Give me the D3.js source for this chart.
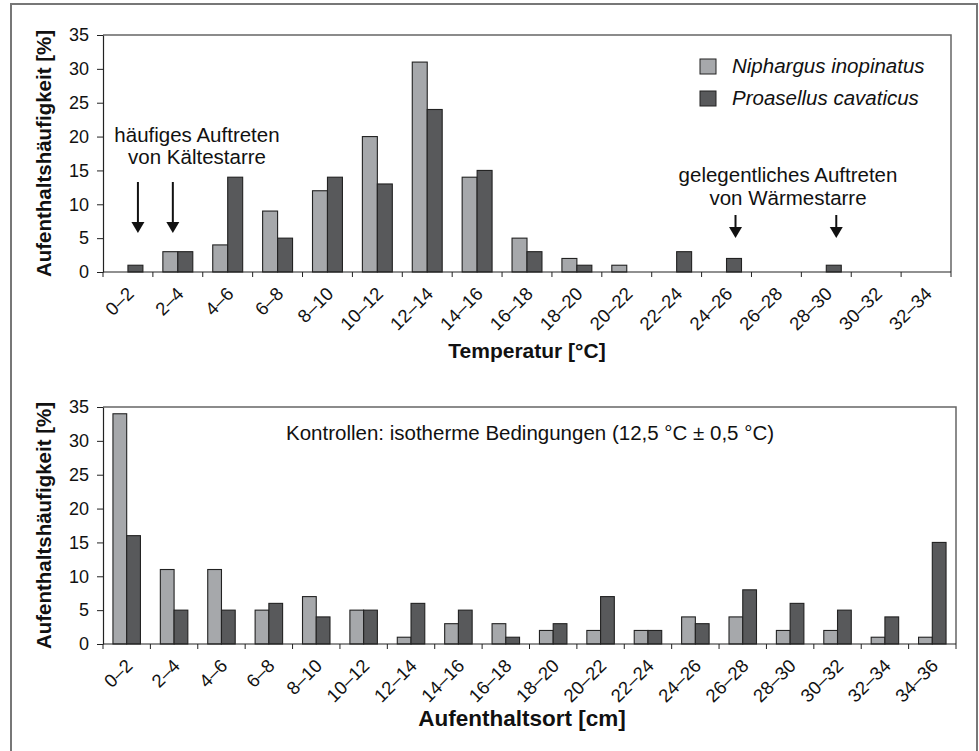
<!DOCTYPE html>
<html>
<head>
<meta charset="utf-8">
<script src="https://cdn.jsdelivr.net/npm/d3@7/dist/d3.min.js"></script>
<style>
  html, body { margin: 0; padding: 0; background: #fff; }
  svg { display: block; }
  text { font-family: "Liberation Sans", Arial, sans-serif; fill: #111; }
</style>
</head>
<body>
<svg id="chart" width="979" height="751"></svg>
<script>
// ---------- data ----------
const seriesNames = ["Niphargus inopinatus", "Proasellus cavaticus"];

const tempCategories = ["0–2","2–4","4–6","6–8","8–10","10–12","12–14","14–16","16–18","18–20","20–22","22–24","24–26","26–28","28–30","30–32","32–34"];
const tempNiphargus  = [0, 3, 4, 9, 12, 20, 31, 14, 5, 2, 1, 0, 0, 0, 0, 0, 0];
const tempProasellus = [1, 3, 14, 5, 14, 13, 24, 15, 3, 1, 0, 3, 2, 0, 1, 0, 0];

const posCategories = ["0–2","2–4","4–6","6–8","8–10","10–12","12–14","14–16","16–18","18–20","20–22","22–24","24–26","26–28","28–30","30–32","32–34","34–36"];
const posNiphargus  = [34, 11, 11, 5, 7, 5, 1, 3, 3, 2, 2, 2, 4, 4, 2, 2, 1, 1];
const posProasellus = [16, 5, 5, 6, 4, 5, 6, 5, 1, 3, 7, 2, 3, 8, 6, 5, 4, 15];

const yTicks = [0, 5, 10, 15, 20, 25, 30, 35];

// ---------- drawing ----------
const svg = d3.select("#chart");
const colors = ["#a6a8ab", "#58595b"];

// outer frame
svg.append("rect")
  .attr("x", 11).attr("y", 4).attr("width", 966).attr("height", 800)
  .attr("fill", "none").attr("stroke", "#777").attr("stroke-width", 2);

function drawPanel(cfg) {
  const { left, right, top, bottom, cats, s1, s2, offset, barW, xTitle, xTitleX, xTitleY, xTitleSize } = cfg;
  const g = svg.append("g");
  const x = d3.scaleBand().domain(cats).range([left, right]).padding(0);
  const y = d3.scaleLinear().domain([0, 35]).range([bottom, top]);
  const bw = x.bandwidth();

  // frame (top + right)
  g.append("path")
    .attr("d", `M${left},${top}H${right}V${bottom}`)
    .attr("fill", "none").attr("stroke", "#666").attr("stroke-width", 1.5);

  // bars
  const data = [];
  cats.forEach((c, i) => {
    data.push({ c, s: 0, v: s1[i] });
    data.push({ c, s: 1, v: s2[i] });
  });
  g.selectAll("rect.bar").data(data.filter(d => d.v > 0)).join("rect")
    .attr("class", "bar")
    .attr("x", d => x(d.c) + bw * offset + d.s * bw * barW)
    .attr("width", bw * barW)
    .attr("y", d => y(d.v))
    .attr("height", d => y(0) - y(d.v))
    .attr("fill", d => colors[d.s])
    .attr("stroke", "#222").attr("stroke-width", 1.1);

  // y axis
  const ya = g.append("g").attr("transform", `translate(${left},0)`)
    .call(d3.axisLeft(y).tickValues(yTicks).tickSize(6).tickPadding(8).tickSizeOuter(0));
  ya.select(".domain").attr("stroke", "#222").attr("stroke-width", 1.2);
  ya.selectAll(".tick line").attr("stroke", "#222");
  ya.selectAll(".tick text").style("font-size", "18px").attr("fill", "#111");

  // x axis line & ticks at band boundaries
  g.append("line").attr("x1", left).attr("x2", right).attr("y1", bottom).attr("y2", bottom)
    .attr("stroke", "#222").attr("stroke-width", 1.2);
  const bounds = cats.map(c => x(c)).concat([x(cats[cats.length - 1]) + bw]);
  g.selectAll("line.xt").data(bounds).join("line")
    .attr("class", "xt")
    .attr("x1", d => d).attr("x2", d => d)
    .attr("y1", bottom).attr("y2", bottom + 5)
    .attr("stroke", "#222");
  g.selectAll("text.xl").data(cats).join("text")
    .attr("class", "xl")
    .attr("text-anchor", "end")
    .attr("transform", d => `translate(${x(d) + bw / 2 + 7},${bottom + 23}) rotate(-45)`)
    .style("font-size", "18.5px")
    .text(d => d);

  // y title
  g.append("text")
    .attr("text-anchor", "middle")
    .attr("transform", `translate(51,${(top + bottom) / 2}) rotate(-90)`)
    .style("font-size", "20.5px").style("font-weight", "bold")
    .text("Aufenthaltshäufigkeit [%]");

  // x title
  g.append("text")
    .attr("text-anchor", "middle")
    .attr("x", xTitleX).attr("y", xTitleY)
    .style("font-size", xTitleSize).style("font-weight", "bold")
    .text(xTitle);

  return { g, x, y, bw };
}

const panelTemp = drawPanel({
  left: 103, right: 951, top: 35, bottom: 272,
  cats: tempCategories, s1: tempNiphargus, s2: tempProasellus,
  offset: 0.2, barW: 0.3, xTitle: "Temperatur [°C]", xTitleX: 527, xTitleY: 358, xTitleSize: "21px"
});

const panelPos = drawPanel({
  left: 103, right: 956, top: 407, bottom: 644,
  cats: posCategories, s1: posNiphargus, s2: posProasellus,
  offset: 0.21, barW: 0.29, xTitle: "Aufenthaltsort [cm]", xTitleX: 522, xTitleY: 726, xTitleSize: "22.5px"
});

// legend
const legend = svg.append("g");
seriesNames.forEach((n, i) => {
  legend.append("rect")
    .attr("x", 700).attr("y", 59 + i * 32).attr("width", 16).attr("height", 15)
    .attr("fill", colors[i]).attr("stroke", "#222").attr("stroke-width", 1);
  legend.append("text")
    .attr("x", 732).attr("y", 73 + i * 32)
    .style("font-size", "20.5px").style("font-style", "italic")
    .text(n);
});

// annotations (top panel)
function arrow(xc, y1, y2) {
  svg.append("line").attr("x1", xc).attr("x2", xc).attr("y1", y1).attr("y2", y2 - 10)
    .attr("stroke", "#111").attr("stroke-width", 2);
  svg.append("path")
    .attr("d", `M${xc - 6.5},${y2 - 11}L${xc + 6.5},${y2 - 11}L${xc},${y2}Z`)
    .attr("fill", "#111");
}
const tx = panelTemp.x, tbw = panelTemp.bw;
arrow(tx("0–2") + tbw * 0.7, 182, 233);
arrow(tx("2–4") + tbw * 0.4, 182, 233);
arrow(tx("24–26") + tbw * 0.68, 215, 238);
arrow(tx("28–30") + tbw * 0.7, 215, 238);

function label(lines, xc, y0, dy) {
  lines.forEach((t, i) => {
    svg.append("text").attr("text-anchor", "middle")
      .attr("x", xc).attr("y", y0 + i * dy)
      .style("font-size", "20.5px").text(t);
  });
}
label(["häufiges Auftreten", "von Kältestarre"], 197, 142, 22);
label(["gelegentliches Auftreten", "von Wärmestarre"], 788, 182, 23);

// bottom panel note
svg.append("text").attr("text-anchor", "middle")
  .attr("x", 530).attr("y", 440)
  .style("font-size", "20.5px")
  .text("Kontrollen: isotherme Bedingungen (12,5 °C ± 0,5 °C)");
</script>
</body>
</html>
